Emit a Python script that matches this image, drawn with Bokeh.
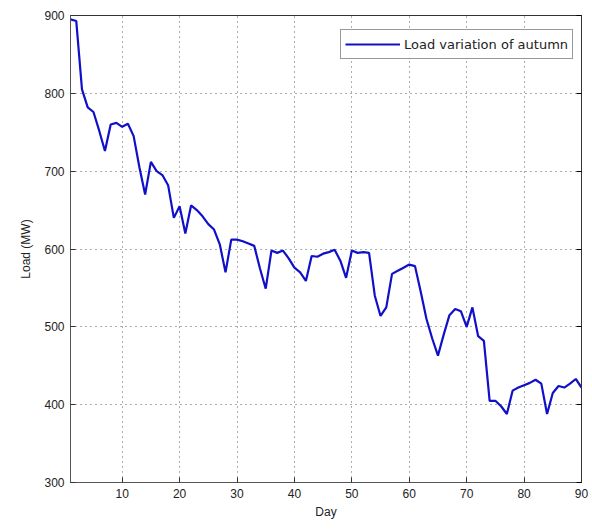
from bokeh.plotting import figure
from bokeh.models import Range1d, FixedTicker, Legend, LegendItem, LinearAxis
from bokeh.embed import file_html
from bokeh.resources import INLINE

days = list(range(1, 91))
load = [895, 893, 805, 782, 776, 752, 726, 760, 762, 757,
        761, 745, 705, 670, 712, 700, 695, 682, 640, 655,
        620, 656, 650, 642, 632, 625, 606, 570, 612, 612,
        610, 607, 604, 575, 549, 598, 595, 598, 588, 576,
        570, 559, 591, 590, 594, 596, 599, 585, 563, 598,
        595, 596, 595, 540, 514, 525, 568, 572, 576, 580,
        578, 545, 510, 485, 463, 490, 515, 523, 520, 500,
        525, 488, 482, 405, 405, 398, 388, 418, 422, 425,
        428, 432, 427, 388, 415, 424, 422, 427, 433, 422]
x_ticks = [10, 20, 30, 40, 50, 60, 70, 80, 90]
y_ticks = [300, 400, 500, 600, 700, 800, 900]

FONT = "Liberation Sans"

p = figure(width=592, height=532, output_backend="svg", toolbar_location=None,
           x_range=Range1d(1, 90), y_range=Range1d(300, 900),
           min_border_left=70, min_border_right=11, min_border_top=15, min_border_bottom=50)
p.background_fill_color = "white"
p.border_fill_color = "white"
p.outline_line_color = "#333333"
p.outline_line_width = 1

r = p.line(days, load, line_color="#1010c8", line_width=2.2)

for ax in (p.xaxis[0], p.yaxis[0]):
    ax.major_tick_in = 5
    ax.major_tick_out = 0
    ax.minor_tick_in = 0
    ax.minor_tick_out = 0
    ax.axis_line_color = "#555555"
    ax.major_tick_line_color = "#333333"
    ax.major_label_text_font = FONT
    ax.major_label_text_font_size = "12px"
    ax.major_label_text_color = "#222222"
    ax.axis_label_text_font = FONT
    ax.axis_label_text_font_size = "12px"
    ax.axis_label_text_font_style = "normal"
    ax.axis_label_text_color = "#222222"

p.xaxis.ticker = FixedTicker(ticks=x_ticks)
p.yaxis.ticker = FixedTicker(ticks=y_ticks)
p.xaxis.axis_label = "Day"
p.yaxis.axis_label = "Load (MW)"
p.xaxis.axis_label_standoff = 4
p.yaxis.axis_label_standoff = 8
p.xaxis.major_label_standoff = 6
p.yaxis.major_label_standoff = 6

ra = LinearAxis(ticker=FixedTicker(ticks=y_ticks),
                major_label_overrides={t: "" for t in y_ticks},
                major_tick_in=5, major_tick_out=0, minor_tick_in=0, minor_tick_out=0,
                axis_line_color="#333333")
p.add_layout(ra, "right")

p.xgrid.ticker = FixedTicker(ticks=x_ticks)
p.ygrid.ticker = FixedTicker(ticks=y_ticks)
for g in (p.xgrid[0], p.ygrid[0]):
    g.grid_line_color = "#333333"
    g.grid_line_dash = "1 4"
    g.grid_line_width = 1
    g.grid_line_alpha = 0.8

legend = Legend(items=[LegendItem(label="Load variation of autumn", renderers=[r])],
                location=(270, 423))
legend.label_text_font = "DejaVu Sans"
legend.label_text_font_size = "13px"
legend.label_text_color = "#222222"
legend.border_line_color = "#333333"
legend.border_line_width = 1
legend.glyph_width = 55
legend.padding = 4
legend.margin = 0
legend.spacing = 0
legend.label_standoff = 4
p.add_layout(legend)

open("out.html", "w").write(file_html(p, INLINE))
